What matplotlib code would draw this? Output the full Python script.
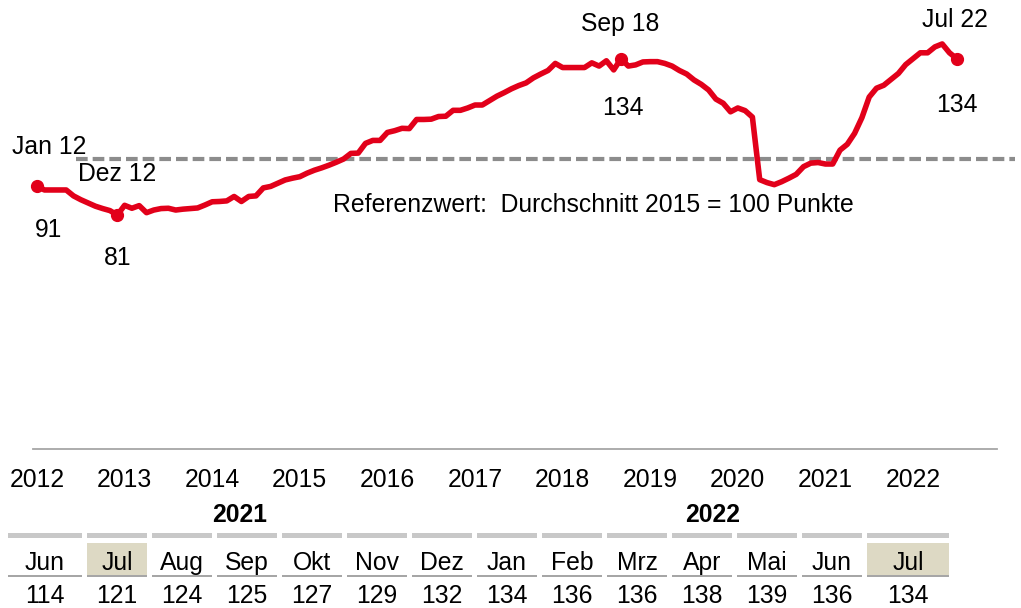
import numpy as np
import matplotlib.pyplot as plt
from matplotlib.patches import Rectangle
from matplotlib.transforms import blended_transform_factory

plt.rcParams['font.family'] = ['Liberation Sans', 'DejaVu Sans']

# monthly index values, Jan 2012 ... Jul 2022 (2015 = 100)
v2012 = [91, 89.5, 89.5, 89.5, 89.5, 87.5, 86.2, 85.1, 84, 83.2, 82.5, 81]
v2013 = [84.3, 83.3, 84.2, 81.8, 82.7, 83.2, 83.3, 82.7, 83, 83.2, 83.4, 84.4]
v2014 = [85.5, 85.6, 85.8, 87.3, 85.6, 87.3, 87.5, 90.2, 90.7, 91.8, 92.9, 93.5]
v2015 = [94, 95.2, 96.2, 97, 97.9, 98.9, 100, 101.9, 102, 105.3, 106.3, 106.3]
v2016 = [109, 109.6, 110.4, 110.3, 113.4, 113.4, 113.5, 114.4, 114.5, 116.5, 116.5, 117.3]
v2017 = [118.3, 118.3, 119.8, 121.3, 122.5, 123.8, 124.9, 125.8, 127.5, 128.8, 130, 132.4]
v2018 = [131, 131, 131, 131, 132.6, 131.5, 133.3, 130.2, 134, 131.5, 131.9, 132.9]
v2019 = [133, 133, 132.4, 131.5, 130, 128.8, 126.8, 125.3, 123.4, 120.3, 118.9, 116]
v2020 = [117.3, 116.4, 114.2, 93, 92, 91.3, 92.3, 93.5, 94.8, 97.4, 98.6, 98.8]
v2021 = [98.3, 98.3, 103, 105, 108.7, 114, 121, 124, 125, 127, 129, 132]
v2022 = [134, 136, 136, 138, 139, 136, 134]
values = v2012 + v2013 + v2014 + v2015 + v2016 + v2017 + v2018 + v2019 + v2020 + v2021 + v2022
months = np.arange(len(values))

years = list(range(2012, 2023))

# marked points: (month index, label)
marks = [(0, 'Jan 12'), (11, 'Dez 12'), (80, 'Sep 18'), (126, 'Jul 22')]

tab_months = ['Jun', 'Jul', 'Aug', 'Sep', 'Okt', 'Nov', 'Dez',
              'Jan', 'Feb', 'Mrz', 'Apr', 'Mai', 'Jun', 'Jul']
tab_values = [114, 121, 124, 125, 127, 129, 132, 134, 136, 136, 138, 139, 136, 134]
tab_years = ['2021', '2022']

red = '#e2001a'
fs = 17.8

W, H = 1021, 608
fig = plt.figure(figsize=(W / 100, H / 100), dpi=100)

# pixel layer for table and separators
px = fig.add_axes([0, 0, 1, 1])
px.set_xlim(0, W)
px.set_ylim(H, 0)
px.axis('off')

# chart layer
ax = fig.add_axes([0, 0, 1, 1])
ax.patch.set_alpha(0)
ax.axis('off')
x0, dx = 37, 7.3     # pixel of Jan 12, pixels per month
y100, dy = 159, 2.95  # pixel of 100, pixels per point
ax.set_xlim(-x0 / dx, (W - x0) / dx)
ax.set_ylim(100 - (H - y100) / dy, 100 + y100 / dy)

ax.axhline(100, xmin=76 / W, xmax=1015 / W, color='#8c8c8c', lw=3,
           dashes=(2.8, 1.2), zorder=1)
ax.plot(months, values, color=red, lw=4, solid_joinstyle='round',
        solid_capstyle='round', zorder=3)

offsets = {0: ((12, 32), (12, -51)), 11: ((0, 34), (0, -50)),
           80: ((-1, 28), (2, -56)), 126: ((-2, 32), (0, -53))}
for i, lab in marks:
    ax.plot(months[i], values[i], 'o', color=red, ms=8.5, zorder=4)
    top, bot = offsets[i]
    ax.annotate(lab, (months[i], values[i]), xytext=top, textcoords='offset pixels',
                ha='center', va='baseline', fontsize=fs)
    ax.annotate(f'{round(values[i])}', (months[i], values[i]), xytext=bot,
                textcoords='offset pixels', ha='center', va='baseline', fontsize=fs)

ax.text(333, 212, 'Referenzwert:  Durchschnitt 2015 = 100 Punkte', fontsize=fs,
        ha='left', va='baseline', transform=px.transData)

# separator line and year axis
px.plot([33, 997], [449, 449], color='#a6a6a6', lw=1.3)
trans = blended_transform_factory(ax.transData, px.transData)
for k, yr in enumerate(years):
    ax.text(12 * k, 487, str(yr), transform=trans, ha='center', va='baseline', fontsize=fs)

# table of the last months
lefts = [8] + [87 + 65 * k for k in range(12)] + [867]
rights = [82] + [147 + 65 * k for k in range(12)] + [949]
for j, (m, v) in enumerate(zip(tab_months, tab_values)):
    l, r = lefts[j], rights[j]
    if m == 'Jul':
        px.add_patch(Rectangle((l, 543), r - l, 33, color='#ddd9c4', lw=0))
    px.add_patch(Rectangle((l, 533), r - l, 4.5, color='#c8c8c8', lw=0))
    px.add_patch(Rectangle((l, 575), r - l, 1.8, color='#a6a6a6', lw=0))
    c = (l + r) / 2
    px.text(c, 570, m, ha='center', va='baseline', fontsize=fs)
    px.text(c, 603, str(v), ha='center', va='baseline', fontsize=fs)

px.text((lefts[0] + rights[6]) / 2, 522, tab_years[0], ha='center', va='baseline',
        fontsize=fs, fontweight='bold')
px.text((lefts[7] + rights[13]) / 2, 522, tab_years[1], ha='center', va='baseline',
        fontsize=fs, fontweight='bold')

fig.savefig('out.png', dpi=100)
